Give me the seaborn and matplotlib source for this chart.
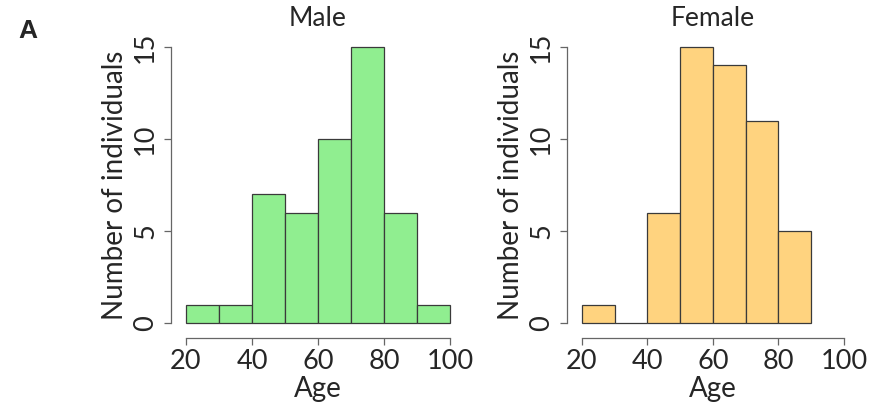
import matplotlib
matplotlib.use("Agg")
import matplotlib.pyplot as plt
import seaborn as sns

bin_edges = [20, 30, 40, 50, 60, 70, 80, 90, 100]
male_counts = [1, 1, 7, 6, 10, 15, 6, 1]
female_counts = [1, 0, 6, 15, 14, 11, 5]
x_ticks = [20, 40, 60, 80, 100]
y_ticks = [0, 5, 10, 15]

sns.set_style("white")
plt.rcParams["font.family"] = ["Lato", "DejaVu Sans"]

fig = plt.figure(figsize=(8.7, 4.05), dpi=100)
ax_m = fig.add_axes([186 / 870, 1 - 323 / 405, 264 / 870, 276 / 405])
ax_f = fig.add_axes([582 / 870, 1 - 323 / 405, 262 / 870, 276 / 405])


def panel(ax, counts, color, title):
    mids = [(bin_edges[i] + bin_edges[i + 1]) / 2 for i in range(len(counts))]
    edges = bin_edges[:len(counts) + 1]
    sns.histplot(x=mids, weights=counts, bins=edges, color=color, alpha=1,
                 edgecolor="#3a3a3a", linewidth=0.9, ax=ax)
    for p in ax.patches:
        p.set_clip_on(False)
    ax.set_xlim(20, 100)
    ax.set_ylim(0, 15)
    ax.set_xticks(x_ticks)
    ax.set_yticks(y_ticks)
    for s in ["top", "right"]:
        ax.spines[s].set_visible(False)
    ax.spines["left"].set_position(("outward", 11))
    ax.spines["bottom"].set_position(("outward", 11))
    ax.spines["left"].set_bounds(0, 15)
    ax.spines["bottom"].set_bounds(20, 100)
    for s in ["left", "bottom"]:
        ax.spines[s].set_color("#666666")
        ax.spines[s].set_linewidth(0.9)
    ax.tick_params(axis="both", direction="out", length=5, width=0.9,
                   color="#666666", labelsize=19.5, left=True, bottom=True)
    ax.tick_params(axis="x", pad=3)
    ax.tick_params(axis="y", pad=4)
    for lab in ax.get_yticklabels():
        lab.set_rotation(90)
        lab.set_va("center")
    ax.set_xlabel("Age", fontsize=20, labelpad=1)
    ax.set_ylabel("Number of individuals", fontsize=20, labelpad=4)
    ax.set_title(title, fontsize=19, pad=15)
    ax.grid(False)


panel(ax_m, male_counts, "#90EE90", "Male")
panel(ax_f, female_counts, "#FFD37F", "Female")

fig.text(28 / 870, 1 - 31 / 405, "A", fontsize=19, fontweight="bold",
         family=["Liberation Sans"], ha="center", va="center")

fig.savefig("out.png", dpi=100)
